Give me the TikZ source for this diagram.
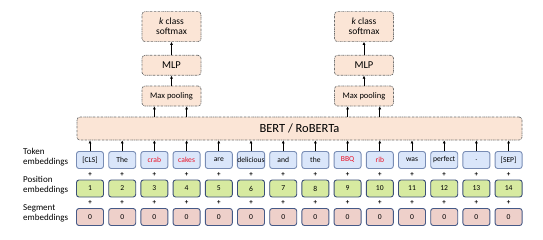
\documentclass[tikz,border=0pt]{standalone}
\usepackage{fontspec}
\setmainfont{Carlito}
\usepackage{tikz}
\usetikzlibrary{arrows.meta,positioning,calc}
\definecolor{peachfill}{RGB}{251,229,214}
\definecolor{peachdraw}{RGB}{110,110,110}
\definecolor{tokfill}{RGB}{218,230,250}
\definecolor{tokdraw}{RGB}{120,140,180}
\definecolor{posfill}{RGB}{215,234,160}
\definecolor{posdraw}{RGB}{60,80,120}
\definecolor{segfill}{RGB}{238,208,202}
\definecolor{segdraw}{RGB}{70,90,135}
\definecolor{wordred}{RGB}{235,20,40}

\begin{document}
\begin{tikzpicture}[x=1pt, y=1pt,
  upbox/.style={rectangle, rounded corners=3pt, draw=peachdraw, fill=peachfill,
    dash pattern=on 2pt off 0.8pt on 0.6pt off 0.8pt, line width=0.7pt,
    minimum width=59pt, inner sep=1pt, align=center},
  embbox/.style={rectangle, rounded corners=2.5pt, line width=0.9pt,
    minimum width=27pt, minimum height=17pt, inner sep=0pt,
    font=\fontsize{7.6}{8}\selectfont},
  tokbox/.style={embbox, draw=tokdraw, fill=tokfill},
  posbox/.style={embbox, draw=posdraw, fill=posfill},
  segbox/.style={embbox, draw=segdraw, fill=segfill},
  lbl/.style={anchor=west, align=left, inner sep=0pt, font=\fontsize{9}{10}\selectfont},
  plus/.style={inner sep=0pt, font=\fontsize{7}{7}\selectfont\bfseries},
  arr/.style={-{Latex[length=3pt, width=3pt]}, line width=0.7pt}]
\useasboundingbox (0,0) rectangle (543,-239);

% left labels
\node[lbl] (lbltok) at (23,-157) {Token\\embeddings};
\node[lbl] (lblpos) at (23,-185) {Position\\embeddings};
\node[lbl] (lblseg) at (23,-213) {Segment\\embeddings};

% embedding rows
\foreach \i/\w in {1/{[CLS]},2/The,3/\textcolor{wordred}{crab},4/\textcolor{wordred}{cakes},
    5/are,6/delicious,7/and,8/the,9/\textcolor{wordred}{BBQ},10/\textcolor{wordred}{rib},
    11/was,12/perfect,13/.,14/{[SEP]}} {
  \node[tokbox] (tok\i) at ({90+(\i-1)*32.2},-160) {\w};
  \node[posbox] (pos\i) at ({90+(\i-1)*32.2},-188.5) {\i};
  \node[segbox] (seg\i) at ({90+(\i-1)*32.2},-217) {0};
  \node[plus] (plusa\i) at ($(tok\i.south)!0.5!(pos\i.north)$) {+};
  \node[plus] (plusb\i) at ($(pos\i.south)!0.5!(seg\i.north)$) {+};
}

\node[upbox, minimum width=445pt, minimum height=23pt, font=\fontsize{12.5}{13}\selectfont]
  (bert) at (299.5,-128.5) {BERT / RoBERTa};
\foreach \i in {1,...,14}
  \draw[arr] (tok\i.north) -- (tok\i.north |- bert.south);

% two heads
\node[upbox, minimum height=20pt, font=\fontsize{8.5}{9}\selectfont] (pool1) at (171.5,-96) {Max pooling};
\node[upbox, minimum height=20pt, font=\fontsize{10.5}{11}\selectfont, above=10pt of pool1] (mlp1) {MLP};
\node[upbox, minimum height=30pt, font=\fontsize{9.5}{10}\selectfont, above=13pt of mlp1] (soft1) {\textit{k} class\\softmax};
\node[upbox, minimum height=20pt, font=\fontsize{8.5}{9}\selectfont] (pool2) at (364,-96) {Max pooling};
\node[upbox, minimum height=20pt, font=\fontsize{10.5}{11}\selectfont, above=10pt of pool2] (mlp2) {MLP};
\node[upbox, minimum height=30pt, font=\fontsize{9.5}{10}\selectfont, above=13pt of mlp2] (soft2) {\textit{k} class\\softmax};

\foreach \t/\p in {tok3/pool1,tok4/pool1,tok9/pool2,tok10/pool2}
  \draw[arr] (bert.north -| \t) -- (\p.south -| \t);
\foreach \a/\b in {pool1/mlp1,mlp1/soft1,pool2/mlp2,mlp2/soft2}
  \draw[arr] (\a) -- (\b);
\end{tikzpicture}
\end{document}
